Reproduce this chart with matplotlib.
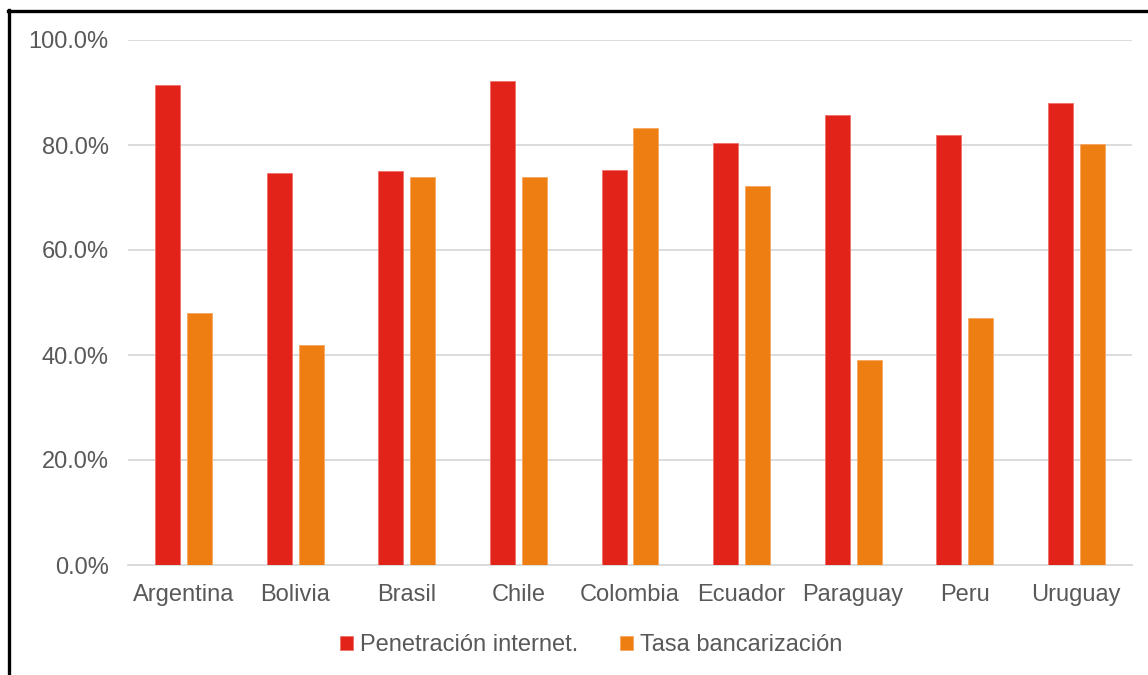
import numpy as np
import matplotlib.pyplot as plt
from matplotlib.lines import Line2D
from matplotlib.ticker import PercentFormatter

countries = ["Argentina", "Bolivia", "Brasil", "Chile", "Colombia",
             "Ecuador", "Paraguay", "Peru", "Uruguay"]
internet = [91.4, 74.6, 75.0, 92.1, 75.2, 80.3, 85.8, 82.0, 88.0]
banking = [48.0, 42.0, 74.0, 74.0, 83.2, 72.2, 39.1, 47.1, 80.2]
series_names = ["Penetración internet.", "Tasa bancarización"]

plt.rcParams["font.family"] = ["Liberation Sans", "DejaVu Sans"]
text_color = "#595959"
grid_color = "#d9d9d9"
red = "#e2231a"
orange = "#ee7d12"

fig = plt.figure(figsize=(11.48, 6.75), dpi=100)
ax = fig.add_axes([128 / 1148, 1 - 565 / 675, (1132 - 128) / 1148, (565 - 40) / 675])

x = np.arange(len(countries))
w = 0.224
off = 0.143
ax.bar(x - off, internet, w, color=red, edgecolor="#f0706a", linewidth=0.6,
       label=series_names[0], zorder=3)
ax.bar(x + off, banking, w, color=orange, edgecolor="#f5a860", linewidth=0.6,
       label=series_names[1], zorder=3)

ax.set_xlim(-0.5, len(countries) - 0.5)
ax.set_ylim(0, 100)
ax.set_yticks(np.arange(0, 101, 20))
ax.yaxis.set_major_formatter(PercentFormatter(decimals=1))
ax.set_xticks(x)
ax.set_xticklabels(countries)
ax.grid(axis="y", color=grid_color, linewidth=1.3, zorder=0)
for s in ["top", "right", "left"]:
    ax.spines[s].set_visible(False)
ax.spines["bottom"].set_color(grid_color)
ax.spines["bottom"].set_linewidth(1.3)
ax.tick_params(length=0, labelsize=17, colors=text_color)
ax.tick_params(axis="y", pad=14)
ax.tick_params(axis="x", pad=14)

leg = fig.legend(loc="center", bbox_to_anchor=(0.515, 1 - 645 / 675), ncol=2,
                 frameon=False, fontsize=17, handlelength=0.55, handleheight=0.55,
                 handletextpad=0.3, columnspacing=1.75)
for t in leg.get_texts():
    t.set_color(text_color)

# black frame on top and left
fig.add_artist(Line2D([8 / 1148, 1], [1 - 10.5 / 675] * 2, color="black",
                      linewidth=2.4, transform=fig.transFigure))
fig.add_artist(Line2D([9 / 1148] * 2, [0, 1 - 9.5 / 675], color="black",
                      linewidth=2.4, transform=fig.transFigure))

fig.savefig("out.png", dpi=100)
